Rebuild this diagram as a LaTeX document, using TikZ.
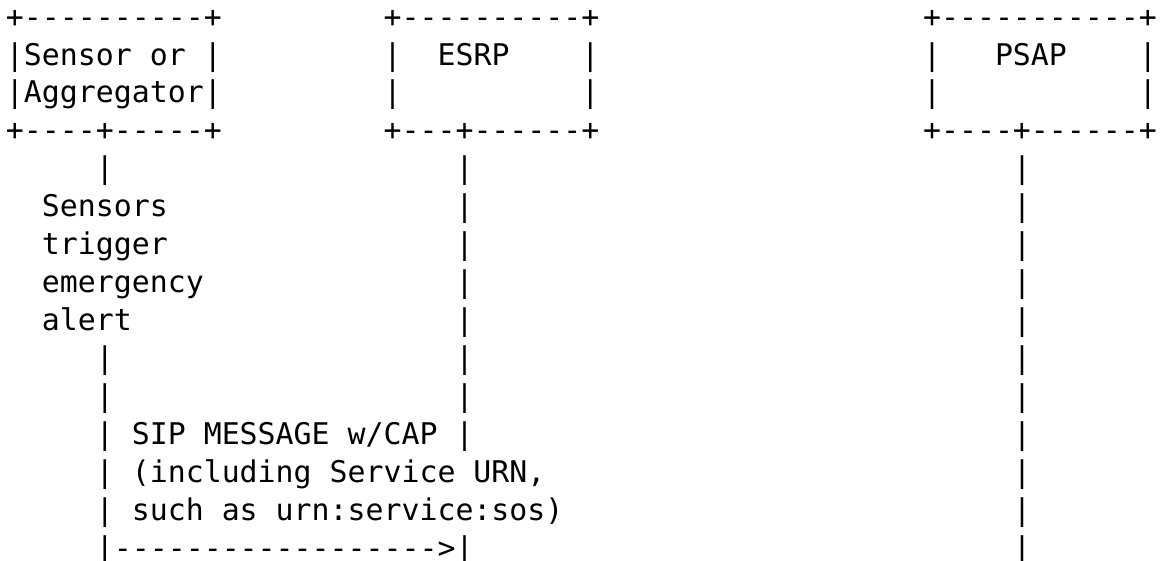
\documentclass[tikz,border=0pt]{standalone}
\usepackage{fontspec}
\setmonofont{DejaVu Sans Mono}
\usepackage{tikz}

\tikzset{
  ascii/.style={anchor=base west, inner sep=0pt, outer sep=0pt, font=\ttfamily\fontsize{10}{12}\selectfont}
}

\begin{document}
\begin{tikzpicture}[x=6.0205pt, y=-12.72pt]
    \useasboundingbox (-2pt,9.04pt) rectangle (386.7pt,-178.76pt);

    % Caja del sensor o agregador
    \node (sensortop) [ascii] at (0,0) {+----------+};
    \node (sensorname) [ascii] at (0,1) {|Sensor or |};
    \node (sensorname2) [ascii] at (0,2) {|Aggregator|};
    \node (sensorbot) [ascii] at (0,3) {+----+-----+};

    % Caja ESRP
    \node (esrptop) [ascii] at (21,0) {+----------+};
    \node (esrpleft1) [ascii] at (21,1) {|};
    \node (esrpname) [ascii] at (24,1) {ESRP};
    \node (esrpright1) [ascii] at (32,1) {|};
    \node (esrpleft2) [ascii] at (21,2) {|};
    \node (esrpright2) [ascii] at (32,2) {|};
    \node (esrpbot) [ascii] at (21,3) {+---+------+};

    % Caja PSAP
    \node (psaptop) [ascii] at (51,0) {+-----------+};
    \node (psapleft1) [ascii] at (51,1) {|};
    \node (psapname) [ascii] at (55,1) {PSAP};
    \node (psapright1) [ascii] at (63,1) {|};
    \node (psapleft2) [ascii] at (51,2) {|};
    \node (psapright2) [ascii] at (63,2) {|};
    \node (psapbot) [ascii] at (51,3) {+----+------+};

    % Lineas de vida
    \foreach \r in {4,9,10} \node (sensorlife\r) [ascii] at (5,\r) {|};
    \foreach \r in {4,...,10} \node (esrplife\r) [ascii] at (25,\r) {|};
    \foreach \r in {4,...,14} \node (psaplife\r) [ascii] at (56,\r) {|};

    % Disparo de la alerta
    \node (sensors) [ascii] at (2,5) {Sensors};
    \node (trigger) [ascii] at (2,6) {trigger};
    \node (emergency) [ascii] at (2,7) {emergency};
    \node (alert) [ascii] at (2,8) {alert};

    % Mensaje SIP hacia el ESRP
    \node (msgline1) [ascii] at (5,11) {| SIP MESSAGE w/CAP |};
    \node (msgline2) [ascii] at (5,12) {| (including Service URN,};
    \node (msgline3) [ascii] at (5,13) {| such as urn:service:sos)};
    \node (msgarrow) [ascii] at (5,14) {|------------------>|};
\end{tikzpicture}
\end{document}
